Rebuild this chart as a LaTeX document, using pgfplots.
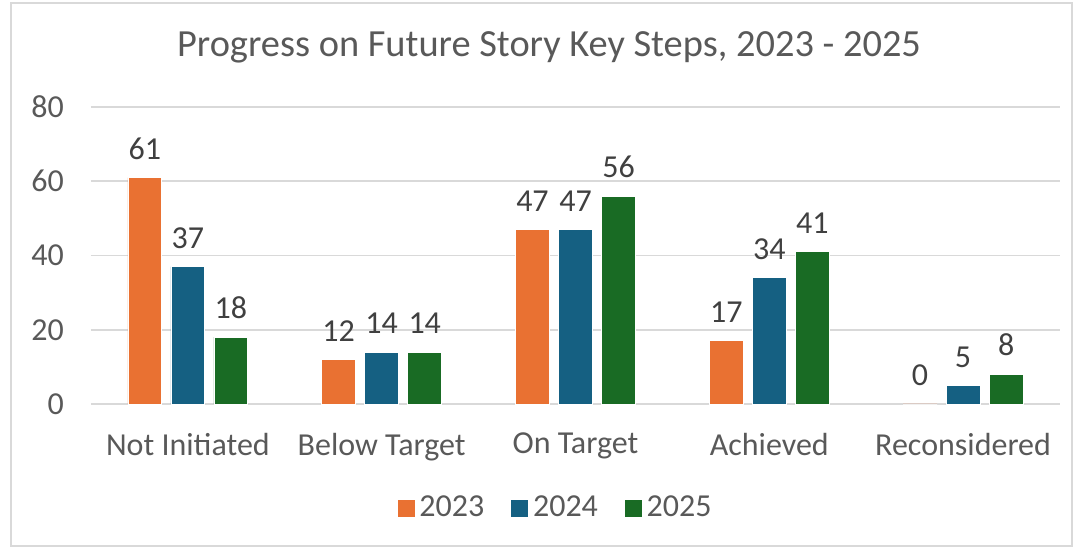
\documentclass[border=0pt]{standalone}
\usepackage{fontspec}
\setmainfont{Carlito}
\usepackage{pgfplots}
\pgfplotsset{compat=1.18}
\definecolor{c23}{HTML}{E97132}
\definecolor{c24}{HTML}{156082}
\definecolor{c25}{HTML}{196B24}
\definecolor{txt}{HTML}{595959}
\definecolor{lbl}{HTML}{404040}
\definecolor{grd}{HTML}{D9D9D9}
\begin{document}
\begin{tikzpicture}
\path (-45.5pt,-73pt) rectangle (493.5pt,202pt);
\draw[grd,line width=0.8pt] (-40pt,-71pt) rectangle (490.5pt,200.5pt);
\begin{axis}[
  at={(0,0)}, anchor=south west,
  scale only axis, width=484.5pt, height=148.5pt,
  xmin=-0.5, xmax=4.5, ymin=0, ymax=80,
  ytick={0,20,...,80},
  xtick={0,1,2,3,4},
  xticklabels={Not Initiated,Below Target,On Target,Achieved,Reconsidered},
  axis line style={draw=none},
  major tick length=0pt,
  ymajorgrids, grid style={draw=grd,line width=0.8pt},
  /pgf/number format/assume math mode=true,
  ticklabel style={font=\fontsize{16}{19}\selectfont, text=txt},
  xticklabel style={yshift=-11pt},
  yticklabel style={xshift=-10pt},
  ybar, bar width=0.175,
  nodes near coords,
  nodes near coords style={font=\fontsize{16}{19}\selectfont, text=lbl, yshift=5.5pt, /pgf/number format/assume math mode=true},
  clip=false,
  legend columns=3,
  legend style={draw=none, fill=none, at={(0.48,-0.35)}, anchor=center,
    font=\fontsize{16}{19}\selectfont, text=txt,
    /tikz/every even column/.append style={column sep=11pt}},
  legend image code/.code={\fill[#1] (0pt,-4.5pt) rectangle (9pt,4.5pt);},
]
\addplot[fill=c23, draw=white, line width=0.4pt, bar shift=-0.222] coordinates {(0,61) (1,12) (2,47) (3,17) (4,0)};
\addplot[fill=c24, draw=white, line width=0.4pt, bar shift=0] coordinates {(0,37) (1,14) (2,47) (3,34) (4,5)};
\addplot[fill=c25, draw=white, line width=0.4pt, bar shift=0.222] coordinates {(0,18) (1,14) (2,56) (3,41) (4,8)};
\legend{2023,2024,2025}
\end{axis}
\node[font=\fontsize{19.2}{23}\selectfont, text=txt] at (229pt,178.5pt) {Progress on Future Story Key Steps, 2023 - 2025};
\end{tikzpicture}
\end{document}
